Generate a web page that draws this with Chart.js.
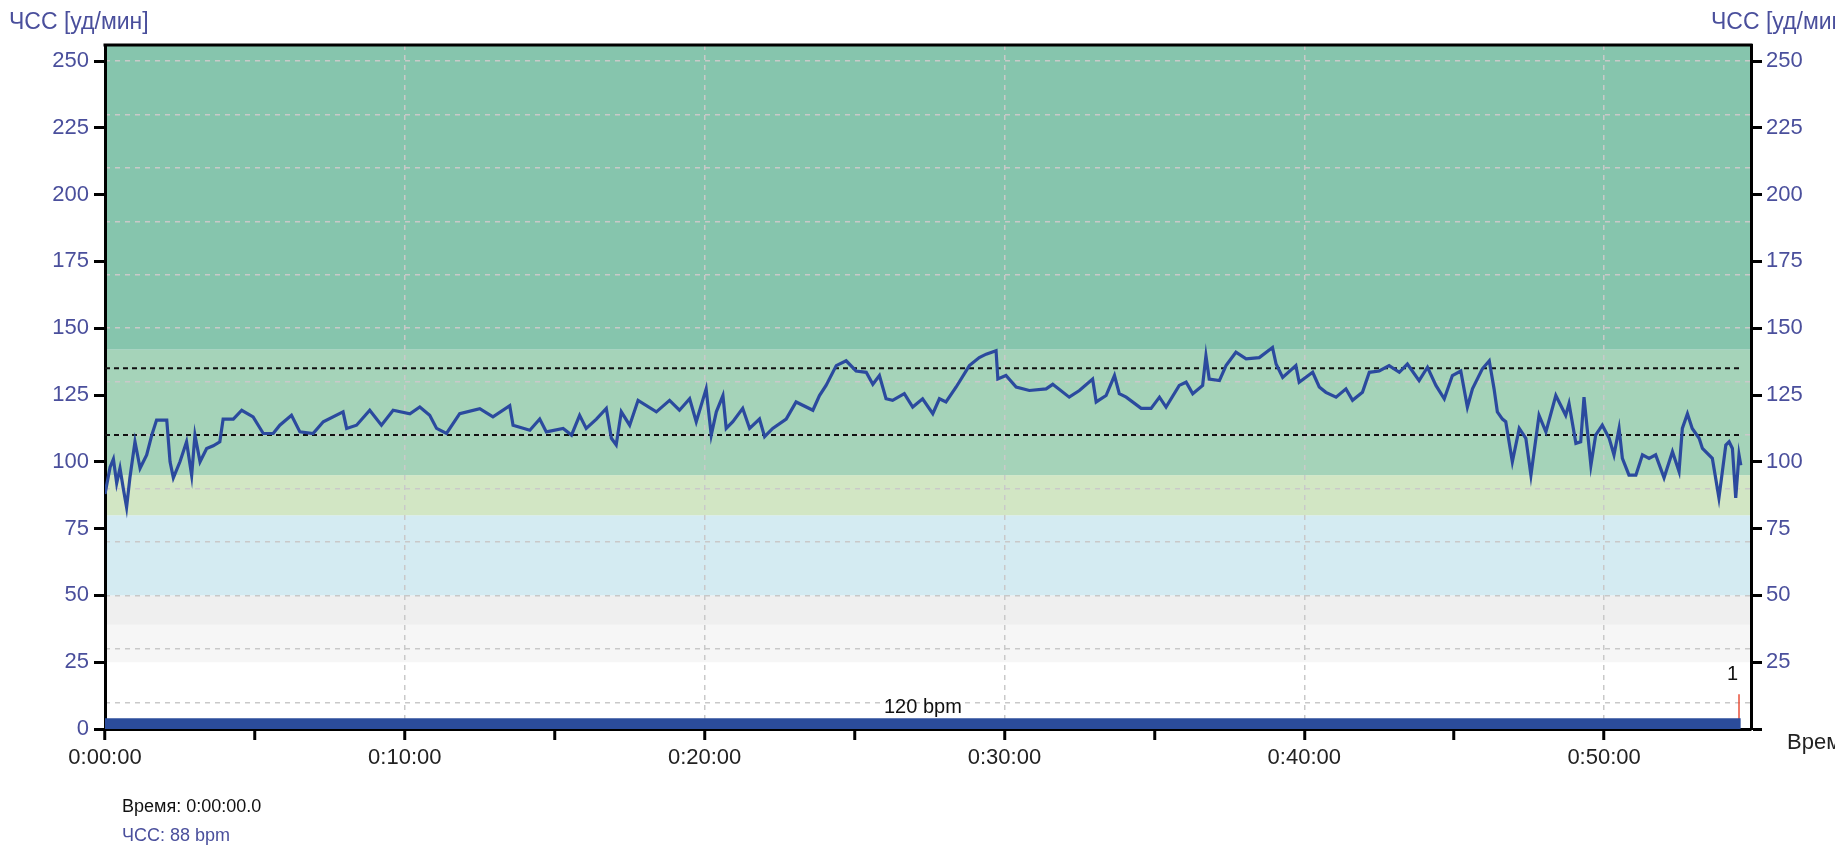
<!DOCTYPE html>
<html>
<head>
<meta charset="utf-8">
<script src="https://cdn.jsdelivr.net/npm/chart.js@4"></script>
<style>
  body { margin: 0; background: #fff; overflow: hidden; }
  #wrap { position: relative; width: 1835px; height: 850px; }
  .lbl { position: absolute; white-space: nowrap; font-family: 'Liberation Sans', Arial, sans-serif; line-height: 1; }
  .blue { color: #4a4f9c; }
</style>
</head>
<body>
<div id="wrap">
  <canvas id="hr" width="1835" height="850"></canvas>
  <div class="lbl blue" style="left:9px; top:10px; font-size:23px;">ЧСС [уд/мин]</div>
  <div class="lbl blue" style="left:1711px; top:10px; font-size:23px;">ЧСС [уд/мин]</div>
  <div class="lbl" style="left:1787px; top:731px; font-size:22px; color:#222;">Время</div>
  <div class="lbl" style="left:122px; top:797px; font-size:18px; color:#111;">Время: 0:00:00.0</div>
  <div class="lbl blue" style="left:122px; top:826px; font-size:18px;">ЧСС: 88 bpm</div>
</div>
<script>
// heart rate trace, time in minutes
const timeMin = [0, 0.17, 0.28, 0.39, 0.5, 0.61, 0.72, 0.83, 1.0, 1.17, 1.39, 1.56, 1.72, 2.06, 2.17, 2.28, 2.5, 2.72, 2.89, 3.0,
  3.17, 3.39, 3.61, 3.83, 3.94, 4.28, 4.56, 4.94, 5.28, 5.61, 5.83, 6.22, 6.5, 6.94, 7.28, 7.94, 8.06, 8.39, 8.83, 9.22,
  9.61, 10.17, 10.5, 10.83, 11.06, 11.39, 11.83, 12.5, 12.94, 13.5, 13.61, 14.17, 14.5, 14.72, 15.28, 15.56, 15.83, 16.05, 16.39, 16.72,
  16.89, 17.05, 17.22, 17.5, 17.78, 18.39, 18.83, 19.16, 19.5, 19.72, 20.05, 20.22, 20.39, 20.61, 20.72, 20.94, 21.27, 21.5, 21.83, 22.0,
  22.27, 22.72, 23.05, 23.61, 23.83, 24.05, 24.39, 24.72, 25.05, 25.39, 25.61, 25.83, 26.05, 26.27, 26.66, 26.94, 27.27, 27.61, 27.83, 28.05,
  28.39, 28.83, 29.16, 29.39, 29.72, 29.78, 30.05, 30.39, 30.83, 31.39, 31.61, 32.16, 32.5, 32.94, 33.06, 33.39, 33.67, 33.83, 34.06, 34.56,
  34.89, 35.17, 35.39, 35.83, 36.06, 36.28, 36.61, 36.72, 36.83, 37.17, 37.39, 37.72, 38.06, 38.5, 38.94, 39.06, 39.28, 39.72, 39.83, 40.28,
  40.5, 40.72, 41.06, 41.39, 41.61, 41.94, 42.17, 42.5, 42.83, 43.17, 43.44, 43.83, 44.11, 44.39, 44.67, 44.94, 45.22, 45.44, 45.61, 45.94,
  46.17, 46.33, 46.44, 46.61, 46.72, 46.94, 47.17, 47.39, 47.56, 47.83, 48.06, 48.39, 48.72, 48.83, 49.06, 49.22, 49.33, 49.56, 49.72, 49.94,
  50.17, 50.33, 50.5, 50.61, 50.83, 51.06, 51.28, 51.5, 51.72, 52.0, 52.28, 52.5, 52.61, 52.78, 52.94, 53.17, 53.28, 53.61, 53.83, 54.06,
  54.17, 54.28, 54.39, 54.5, 54.56];
const hrBpm = [88, 98, 101, 92, 97.6, 90, 83, 94, 107.5, 97.6, 102.6, 110, 115.6, 115.6, 100, 94, 100, 107.5, 95, 110,
  100, 105, 106, 107.5, 116, 116, 119.3, 116.8, 110.6, 110.6, 113.7, 117.4, 111.2, 110.6, 115, 118.7, 112.5, 113.7, 119.3, 113.7,
  119.3, 118, 120.5, 117.4, 112.5, 110.6, 118, 119.9, 116.8, 121, 113.7, 111.8, 116, 111.2, 112.5, 110, 117.4, 112.5, 116, 120,
  108.8, 106.3, 118.7, 113.7, 123, 118.7, 123, 119.3, 123.6, 115, 127.3, 110, 118.7, 124.8, 112.5, 115, 120, 112.5, 116, 109.4,
  112.5, 116, 122.4, 119.3, 124.8, 128.6, 136, 137.8, 134, 133.5, 129, 132.3, 123.6, 123, 125.5, 120.5, 123.6, 118, 123.6, 122.4,
  128, 136, 139, 140.3, 141.6, 131, 132.3, 128, 126.7, 127.3, 129, 124.2, 126.7, 131, 122.4, 124.8, 132.3, 125.5, 124.2, 120,
  120, 124.2, 120.5, 128.6, 129.8, 125.5, 128.6, 139.7, 131, 130.4, 136, 141, 138.5, 139, 142.8, 136.6, 131.6, 136, 129.8, 133.5,
  128, 126, 124.2, 127.3, 123, 126, 133.5, 134, 136, 133.5, 136.6, 130.4, 135.4, 128.6, 123.6, 132.3, 134, 120.5, 127.3, 134.8,
  137.8, 127.3, 118.7, 116, 115, 100, 112.5, 108.8, 95, 117.4, 111.2, 124.8, 117.4, 121.8, 106.9, 107.5, 124.2, 98.7, 110, 113.7,
  108.8, 102.6, 112.5, 101.3, 95, 95, 102.6, 101.3, 102.6, 94, 103.8, 96.4, 112.5, 118, 112.5, 108.8, 105, 101.3, 86.5, 106.3,
  107.5, 105, 86.5, 102.6, 98.7];

const yTicks = [0, 25, 50, 75, 100, 125, 150, 175, 200, 225, 250];
const gridLevels = [10, 30, 50, 70, 90, 110, 130, 150, 170, 190, 210, 230, 250];
const xTicks = [0, 5, 10, 15, 20, 25, 30, 35, 40, 45, 50];
const xTickLabels = ['0:00:00', '', '0:10:00', '', '0:20:00', '', '0:30:00', '', '0:40:00', '', '0:50:00'];

// heart rate zones (bpm)
const zoneLow = [25, 39, 50, 80, 95, 142];
const zoneHigh = [39, 50, 80, 95, 142, 256];
const zoneColor = ['#f6f6f6', '#efefef', '#d4ebf2', '#d2e6c4', '#a5d3b9', '#86c5ad'];
const targetLines = [110, 135];

// lap bar and marker
const lapStart = 0, lapEnd = 54.56, lapValue = 4, lapLabel = '120 bpm';
const markerTime = 54.5, markerTop = 13, markerLabel = '1';

const axisFont = { family: "'Liberation Sans', Arial, sans-serif", size: 22 };
const gridDash = '#c9c9c9';

const zonesPlugin = {
  id: 'zones',
  beforeDraw(chart) {
    const { ctx, chartArea: a, scales: { y } } = chart;
    ctx.save();
    for (let i = 0; i < zoneLow.length; i++) {
      const top = y.getPixelForValue(zoneHigh[i]);
      const bot = y.getPixelForValue(zoneLow[i]);
      ctx.fillStyle = zoneColor[i];
      ctx.fillRect(a.left, top, a.right - a.left, bot - top);
    }
    ctx.restore();
  },
  beforeDatasetsDraw(chart) {
    const { ctx, scales: { x, y } } = chart;
    ctx.save();
    ctx.strokeStyle = '#111';
    ctx.lineWidth = 2;
    ctx.setLineDash([5, 4]);
    targetLines.forEach(v => {
      const py = y.getPixelForValue(v);
      ctx.beginPath();
      ctx.moveTo(x.getPixelForValue(0), py);
      ctx.lineTo(x.getPixelForValue(markerTime), py);
      ctx.stroke();
    });
    ctx.restore();
  },
  afterDraw(chart) {
    const { ctx, chartArea: a, scales: { x, y } } = chart;
    ctx.save();
    ctx.strokeStyle = '#000';
    ctx.lineWidth = 3;
    ctx.beginPath();
    ctx.moveTo(a.left - 1.5, a.top);
    ctx.lineTo(a.right + 1.5, a.top);
    ctx.stroke();
    ctx.fillStyle = '#111';
    ctx.font = "20px 'Liberation Sans', Arial, sans-serif";
    ctx.textAlign = 'center';
    ctx.textBaseline = 'bottom';
    ctx.fillText(lapLabel, (x.getPixelForValue(lapStart) + x.getPixelForValue(lapEnd)) / 2, y.getPixelForValue(lapValue) - 1);
    ctx.textAlign = 'right';
    ctx.fillText(markerLabel, x.getPixelForValue(markerTime) - 1, y.getPixelForValue(markerTop) - 10);
    ctx.restore();
  }
};

new Chart(document.getElementById('hr'), {
  type: 'line',
  data: {
    datasets: [
      {
        data: timeMin.map((t, i) => ({ x: t, y: hrBpm[i] })),
        borderColor: '#2b4a9e',
        borderWidth: 3.2,
        pointRadius: 0,
        tension: 0
      },
      {
        data: [{ x: lapStart, y: lapValue }, { x: lapEnd, y: lapValue }],
        borderWidth: 0,
        backgroundColor: '#2b4c9b',
        fill: 'origin',
        pointRadius: 0
      },
      {
        data: [{ x: markerTime, y: 0 }, { x: markerTime, y: markerTop }],
        borderColor: '#e8503a',
        borderWidth: 1.5,
        pointRadius: 0
      }
    ]
  },
  options: {
    responsive: false,
    animation: false,
    layout: { padding: { top: 45, left: 0, right: 0, bottom: 0 } },
    scales: {
      x: {
        type: 'linear',
        min: 0,
        max: 54.9,
        afterBuildTicks: s => { s.ticks = xTicks.map(v => ({ value: v })); },
        afterFit: s => { s.height = 121; },
        ticks: {
          autoSkip: false,
          maxRotation: 0,
          padding: 5,
          color: '#222',
          font: axisFont,
          callback: (v, i) => xTickLabels[i]
        },
        grid: {
          color: c => (c.tick && c.tick.value % 10 === 0 && c.tick.value > 0) ? gridDash : 'transparent',
          lineWidth: 1.5,
          tickColor: '#000',
          tickLength: 11,
          tickWidth: 3
        },
        border: { color: '#000', width: 3, dash: [5, 5] }
      },
      y: {
        position: 'left',
        min: 0,
        max: 256,
        afterBuildTicks: s => { s.ticks = yTicks.map(v => ({ value: v })); },
        afterFit: s => { s.width = 105; },
        ticks: { color: '#4a4f9c', font: axisFont, padding: 5 },
        grid: { drawOnChartArea: false, tickColor: '#000', tickLength: 11, tickWidth: 3 },
        border: { color: '#000', width: 3 }
      },
      yGrid: {
        position: 'left',
        min: 0,
        max: 256,
        afterBuildTicks: s => { s.ticks = gridLevels.map(v => ({ value: v })); },
        afterFit: s => { s.width = 0; },
        ticks: { display: false },
        grid: { color: gridDash, lineWidth: 1.5, drawTicks: false },
        border: { display: false, dash: [5, 5] }
      },
      yRight: {
        position: 'right',
        min: 0,
        max: 256,
        afterBuildTicks: s => { s.ticks = yTicks.map(v => ({ value: v })); },
        afterFit: s => { s.width = 84; },
        ticks: { color: '#4a4f9c', font: axisFont, padding: 4, callback: v => (v === 0 ? '' : v) },
        grid: { drawOnChartArea: false, tickColor: '#000', tickLength: 11, tickWidth: 3 },
        border: { color: '#000', width: 3 }
      }
    },
    plugins: {
      legend: { display: false },
      tooltip: { enabled: false }
    }
  },
  plugins: [zonesPlugin]
});
</script>
</body>
</html>
